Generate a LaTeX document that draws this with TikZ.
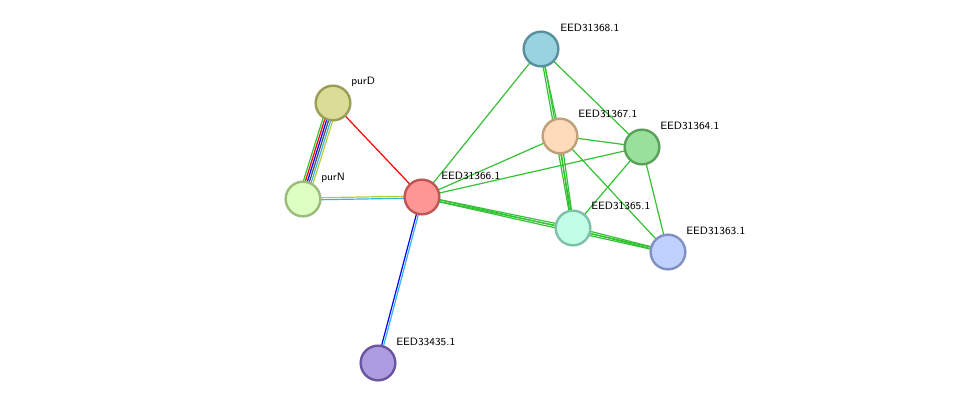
\documentclass[tikz,border=0pt]{standalone}
\usepackage{tikz}
\usetikzlibrary{calc}
\usetikzlibrary{backgrounds}
\definecolor{cpurD}{HTML}{D9DD96}\definecolor{bpurD}{HTML}{9A9D55}
\definecolor{cpurN}{HTML}{DDFFC0}\definecolor{bpurN}{HTML}{9BBB7A}
\definecolor{ca}{HTML}{FF9696}\definecolor{ba}{HTML}{C05555}
\definecolor{cb}{HTML}{99D3E0}\definecolor{bb}{HTML}{5A8FA0}
\definecolor{cc}{HTML}{FFDCB9}\definecolor{bc}{HTML}{C0A07A}
\definecolor{cd}{HTML}{99E09A}\definecolor{bd}{HTML}{5AA05A}
\definecolor{ce}{HTML}{C0FFE6}\definecolor{be}{HTML}{80C0AA}
\definecolor{cf}{HTML}{C0D0FF}\definecolor{bf}{HTML}{8090C0}
\definecolor{cg}{HTML}{AD9DE0}\definecolor{bg}{HTML}{6A55A0}
\definecolor{egreen}{HTML}{33C233}
\definecolor{ecyan}{HTML}{33B5E5}
\definecolor{eyellow}{HTML}{BBCC33}
\tikzset{
    prot/.style = {circle, line width=1.8pt, minimum size=26pt, inner sep=0pt},
    lab/.style = {anchor=west, inner sep=0pt, font=\sffamily\footnotesize},
    edg/.style = {line width=0.9pt},
}
\newcommand{\pedge}[4]{\draw[edg,#4] ($(#1)!#3!90:(#2)$) -- ($(#2)!#3!-90:(#1)$);}
\begin{document}
\begin{tikzpicture}[x=0.75pt,y=-0.75pt]
\useasboundingbox (0,0) rectangle (975,409);
\node[prot,fill=cpurD,draw=bpurD] at (333,103) (purD) {};
\node[prot,fill=cpurN,draw=bpurN] at (303,199) (purN) {};
\node[prot,fill=ca,draw=ba] at (422,197) (e66) {};
\node[prot,fill=cb,draw=bb] at (541,49) (e68) {};
\node[prot,fill=cc,draw=bc] at (560,136) (e67) {};
\node[prot,fill=cd,draw=bd] at (642,147) (e64) {};
\node[prot,fill=ce,draw=be] at (573,228) (e65) {};
\node[prot,fill=cf,draw=bf] at (668,252) (e63) {};
\node[prot,fill=cg,draw=bg] at (378,363) (e35) {};
%
\node[lab] at (351,82) {purD};
\node[lab] at (321,178) {purN};
\node[lab] at (441,176) {EED31366.1};
\node[lab] at (560,28) {EED31368.1};
\node[lab] at (578,114) {EED31367.1};
\node[lab] at (660,126) {EED31364.1};
\node[lab] at (591,206) {EED31365.1};
\node[lab] at (686,231) {EED31363.1};
\node[lab] at (396,342) {EED33435.1};
%
\begin{pgfonlayer}{background}
\pedge{purD}{purN}{-3.75pt}{egreen}
\pedge{purD}{purN}{-2.25pt}{red}
\pedge{purD}{purN}{-0.75pt}{blue}
\pedge{purD}{purN}{0.75pt}{black!70}
\pedge{purD}{purN}{2.25pt}{ecyan}
\pedge{purD}{purN}{3.75pt}{eyellow}
\pedge{purD}{e66}{0pt}{red}
\pedge{purN}{e66}{-0.75pt}{ecyan}
\pedge{purN}{e66}{0.75pt}{eyellow}
\pedge{e66}{e35}{-0.75pt}{blue}
\pedge{e66}{e35}{0.75pt}{ecyan}
%
\pedge{e66}{e68}{0pt}{egreen}
\pedge{e66}{e67}{0pt}{egreen}
\pedge{e66}{e64}{0pt}{egreen}
\pedge{e66}{e65}{-0.75pt}{egreen}
\pedge{e66}{e65}{0.75pt}{egreen}
\pedge{e66}{e63}{-0.75pt}{egreen}
\pedge{e66}{e63}{0.75pt}{egreen}
\pedge{e68}{e67}{0pt}{egreen}
\pedge{e68}{e65}{-0.75pt}{egreen}
\pedge{e68}{e65}{0.75pt}{egreen}
\pedge{e68}{e64}{0pt}{egreen}
\pedge{e67}{e64}{0pt}{egreen}
\pedge{e67}{e65}{-0.75pt}{egreen}
\pedge{e67}{e65}{0.75pt}{egreen}
\pedge{e67}{e63}{0pt}{egreen}
\pedge{e64}{e65}{0pt}{egreen}
\pedge{e64}{e63}{0pt}{egreen}
\pedge{e65}{e63}{-0.75pt}{egreen}
\pedge{e65}{e63}{0.75pt}{egreen}
\end{pgfonlayer}
\end{tikzpicture}
\end{document}
